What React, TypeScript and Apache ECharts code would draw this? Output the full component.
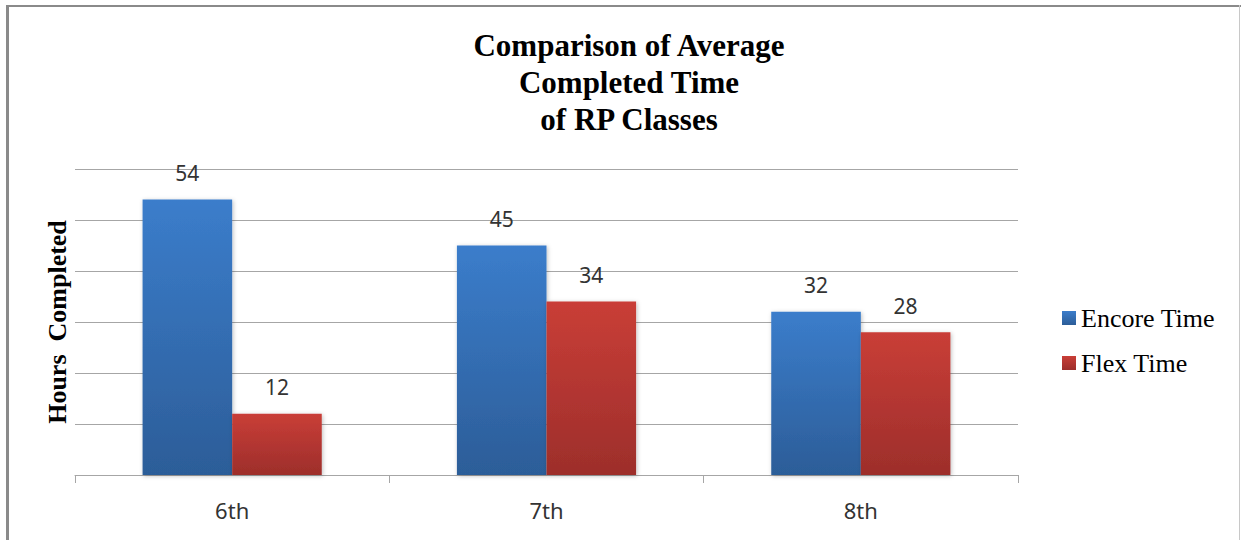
import React, { useEffect, useRef } from "react";
import * as echarts from "echarts";

const categories = ["6th", "7th", "8th"];
const encoreTime = [54, 45, 32];
const flexTime = [12, 34, 28];
const titleLines = ["Comparison of Average", "Completed Time", "of RP Classes"];

export default function App() {
  const ref = useRef<HTMLDivElement>(null);
  useEffect(() => {
    if (!ref.current) return;
    const chart = echarts.init(ref.current, null, { renderer: "svg" });
    const grad = (a: string, b: string) =>
      new echarts.graphic.LinearGradient(0, 0, 0, 1, [
        { offset: 0, color: a },
        { offset: 1, color: b },
      ]);
    const labelStyle = {
      show: true,
      position: "top" as const,
      distance: 16,
      fontFamily: "Noto Sans",
      fontSize: 21,
      color: "#333",
    };
    chart.setOption({
      animation: false,
      backgroundColor: "#fff",
      title: {
        text: titleLines.join("\n"),
        left: 624,
        textAlign: "center",
        top: 22,
        textStyle: {
          fontFamily: "Liberation Serif",
          fontWeight: "bold",
          fontSize: 31,
          lineHeight: 37,
          color: "#000",
        },
      },
      graphic: [
        { type: "rect", shape: { x: 6, y: 5, width: 1240, height: 2 }, style: { fill: "#8a8a8a" } },
        { type: "rect", shape: { x: 6, y: 5, width: 3, height: 540 }, style: { fill: "#8a8a8a" } },
        { type: "rect", shape: { x: 1239, y: 5, width: 1, height: 540 }, style: { fill: "#c8c8c8" } },
      ],
      legend: {
        orient: "vertical",
        left: 1057,
        top: 300,
        itemWidth: 14,
        itemHeight: 14,
        itemGap: 19,
        icon: "rect",
        textStyle: { fontFamily: "Liberation Serif", fontSize: 26, color: "#000" },
        data: ["Encore Time", "Flex Time"],
      },
      grid: { left: 75, right: 223, top: 169, bottom: 65 },
      xAxis: {
        type: "category",
        data: categories,
        axisLine: { lineStyle: { color: "#a6a6a6", width: 1 } },
        axisTick: { show: true, length: 8, lineStyle: { color: "#a6a6a6" } },
        axisLabel: { fontFamily: "Noto Sans", fontSize: 22, color: "#333", margin: 24 },
      },
      yAxis: {
        type: "value",
        min: 0,
        max: 60,
        interval: 10,
        name: "Hours  Completed",
        nameLocation: "middle",
        nameGap: 5,
        nameTextStyle: { fontFamily: "Liberation Serif", fontWeight: "bold", fontSize: 26, color: "#000" },
        axisLabel: { show: false },
        axisLine: { show: false },
        axisTick: { show: false },
        splitLine: { lineStyle: { color: "#a6a6a6", width: 1 } },
      },
      series: [
        {
          name: "Encore Time",
          type: "bar",
          data: encoreTime,
          barGap: "0%",
          barCategoryGap: "43%",
          itemStyle: {
            color: grad("#3b7dcb", "#2c5d98"),
            shadowBlur: 4,
            shadowColor: "rgba(0,0,0,0.25)",
            shadowOffsetX: 1,
            shadowOffsetY: 1,
          },
          label: labelStyle,
        },
        {
          name: "Flex Time",
          type: "bar",
          data: flexTime,
          itemStyle: {
            color: grad("#c93e37", "#9d2e2b"),
            shadowBlur: 4,
            shadowColor: "rgba(0,0,0,0.25)",
            shadowOffsetX: 1,
            shadowOffsetY: 1,
          },
          label: labelStyle,
        },
      ],
    });
    return () => chart.dispose();
  }, []);
  return (
    <div
      ref={ref}
      style={{ position: "absolute", left: 0, top: 0, width: 1241, height: 540 }}
    />
  );
}
